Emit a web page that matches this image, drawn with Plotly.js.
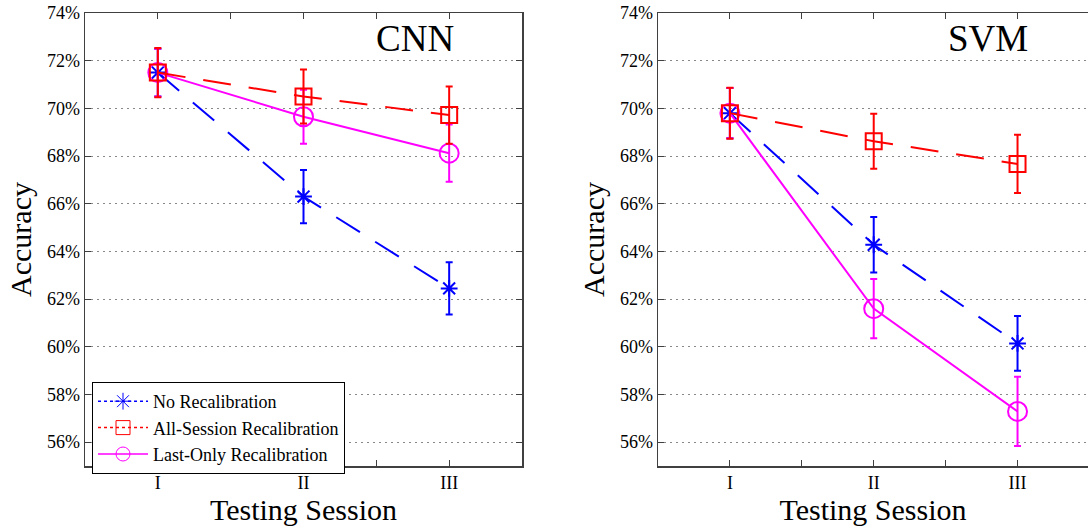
<!DOCTYPE html>
<html>
<head>
<meta charset="utf-8">
<script src="https://cdn.plot.ly/plotly-3.0.1.min.js"></script>
<style>html,body{margin:0;padding:0;background:#fff;}#chart{width:1088px;height:527px;}</style>
</head>
<body>
<div id="chart"></div>
<script>
// Sessions (x positions 1,2,3)
const sessions = [1, 2, 3];
const sessionLabels = ['I', '', 'II', '', 'III'];
const sessionTickVals = [1, 1.5, 2, 2.5, 3];
const seriesNames = ['No Recalibration', 'All-Session Recalibration', 'Last-Only Recalibration'];

// CNN accuracy (%) and error
const cnnNoRecal = [71.5, 66.3, 62.45];
const cnnNoRecalErr = [1.0, 1.12, 1.1];
const cnnAllSession = [71.5, 70.5, 69.72];
const cnnAllSessionErr = [1.03, 1.13, 1.2];
const cnnLastOnly = [71.5, 69.65, 68.12];
const cnnLastOnlyErr = [1.0, 1.13, 1.2];

// SVM accuracy (%) and error
const svmNoRecal = [69.8, 64.28, 60.14];
const svmNoRecalErr = [1.05, 1.16, 1.15];
const svmAllSession = [69.8, 68.62, 67.67];
const svmAllSessionErr = [1.07, 1.15, 1.22];
const svmLastOnly = [69.8, 61.6, 57.29];
const svmLastOnlyErr = [1.05, 1.24, 1.45];

const yTicks = [56, 58, 60, 62, 64, 66, 68, 70, 72, 74];
const yTickLabels = yTicks.map(v => v + '%');

const BLUE = '#0000ff', RED = '#ff0000', MAG = '#ff00ff';
const FONT = 'Liberation Serif, Times New Roman, serif';

function tr(y, err, color, dash, symbol, size, xa, ya) {
  return {
    x: sessions, y: y, xaxis: xa, yaxis: ya, type: 'scatter', mode: 'lines+markers',
    showlegend: false, hoverinfo: 'skip',
    line: {color: color, width: 2, dash: dash},
    marker: {symbol: symbol, size: size, color: color, line: {color: color, width: 2}},
    error_y: {type: 'data', array: err, visible: true, color: color, thickness: 2, width: 3.5}
  };
}
const DASH = '28px,18px';
const data = [
  tr(cnnNoRecal, cnnNoRecalErr, BLUE, DASH, 'asterisk-open', 14, 'x', 'y'),
  tr(cnnLastOnly, cnnLastOnlyErr, MAG, 'solid', 'circle-open', 19, 'x', 'y'),
  tr(cnnAllSession, cnnAllSessionErr, RED, DASH, 'square-open', 16, 'x', 'y'),
  tr(svmNoRecal, svmNoRecalErr, BLUE, DASH, 'asterisk-open', 14, 'x2', 'y2'),
  tr(svmLastOnly, svmLastOnlyErr, MAG, 'solid', 'circle-open', 19, 'x2', 'y2'),
  tr(svmAllSession, svmAllSessionErr, RED, DASH, 'square-open', 16, 'x2', 'y2')
];
// legend-only entries
const legStyles = [[BLUE, 'dot', 'asterisk-open'], [RED, 'dot', 'square-open'], [MAG, 'solid', 'circle-open']];
seriesNames.forEach((n, i) => {
  data.push({
    x: [null], y: [null], xaxis: 'x', yaxis: 'y', type: 'scatter', mode: 'lines+markers', name: n,
    line: {color: legStyles[i][0], width: 1.5, dash: legStyles[i][1]},
    marker: {symbol: legStyles[i][2], size: 14, color: legStyles[i][0], line: {color: legStyles[i][0], width: 1}}
  });
});

function axisCommon() {
  return {
    showline: true, linecolor: '#404040', linewidth: 1.5, ticks: 'inside', ticklen: 6, tickcolor: '#404040',
    tickfont: {family: FONT, size: 18, color: '#000'}, zeroline: false, automargin: false
  };
}
function xax(domain, range, anchor) {
  return Object.assign(axisCommon(), {
    domain: domain, range: range, tickmode: 'array', tickvals: sessionTickVals, ticktext: sessionLabels,
    showgrid: false, mirror: 'ticks', anchor: anchor,
    title: {text: 'Testing Session', font: {family: FONT, size: 30, color: '#000'}, standoff: 0}
  });
}
function yax(anchor, mirror) {
  return Object.assign(axisCommon(), {
    domain: [61/527, 514/527], range: [55, 74], tickmode: 'array', tickvals: yTicks, ticktext: yTickLabels,
    showgrid: true, gridcolor: '#888', griddash: '2px,4px', gridwidth: 1, mirror: mirror, anchor: anchor,
    title: {text: 'Accuracy', font: {family: FONT, size: 30, color: '#000'}, standoff: 6}
  });
}

const layout = {
  width: 1088, height: 527, margin: {l: 0, r: 0, t: 0, b: 0, autoexpand: false},
  paper_bgcolor: '#fff', plot_bgcolor: '#fff', showlegend: true,
  xaxis: xax([85/1088, 522/1088], [0.5, 3.5], 'y'),
  yaxis: yax('x', 'ticks'),
  xaxis2: xax([658/1088, 1], [0.5, 3.49], 'y2'),
  yaxis2: yax('x2', false),
  legend: {x: 92/1088, y: 1 - 382/527, xanchor: 'left', yanchor: 'top', bgcolor: '#fff',
    bordercolor: '#000', borderwidth: 1, font: {family: FONT, size: 18, color: '#000'}, itemwidth: 50,
    tracegroupgap: 0},
  annotations: [
    {text: 'CNN', x: 415/1088, y: 1 - 38/527, xref: 'paper', yref: 'paper', showarrow: false,
      xanchor: 'center', yanchor: 'middle', font: {family: FONT, size: 37, color: '#000'}},
    {text: 'SVM', x: 988/1088, y: 1 - 38/527, xref: 'paper', yref: 'paper', showarrow: false,
      xanchor: 'center', yanchor: 'middle', font: {family: FONT, size: 37, color: '#000'}}
  ]
};
Plotly.newPlot('chart', data, layout, {displayModeBar: false, staticPlot: true});
</script>
</body>
</html>
